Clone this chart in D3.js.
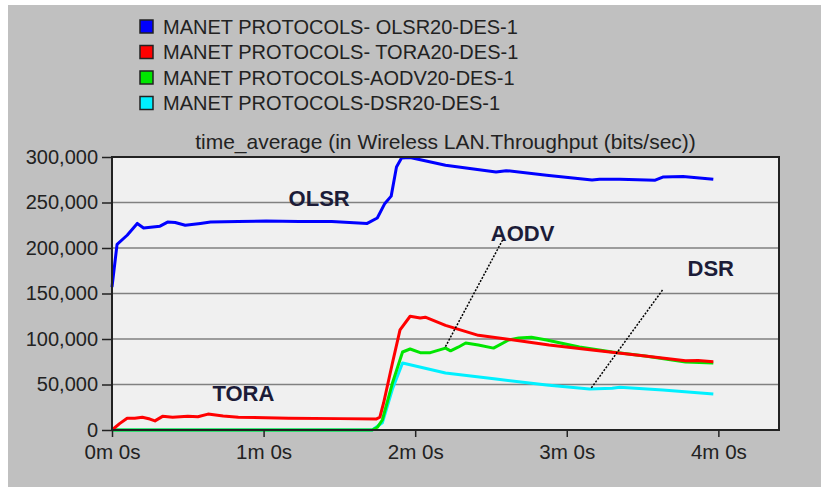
<!DOCTYPE html>
<html>
<head>
<meta charset="utf-8">
<script src="https://cdn.jsdelivr.net/npm/d3@7"></script>
<style>
  html, body { margin: 0; padding: 0; background: #fff; }
  svg { display: block; font-family: "Liberation Sans", Arial, sans-serif; }
</style>
</head>
<body>
<svg id="chart"></svg>
<script>
// time (s), throughput (bits/sec)
const olsr = [
  [0, 157000], [2, 204000], [6, 214000], [10, 227000], [12.5, 222000], [19, 224000],
  [22, 228500], [25, 228000], [29, 225000], [35, 227000], [39, 228500], [50, 229000],
  [61, 229700], [74, 229000], [87, 229000], [101, 227000], [105, 233000], [108, 249000],
  [110.5, 257000], [112.6, 289000], [114.6, 299000], [118, 299500], [132, 291000],
  [152, 283500], [156, 285000], [172, 280000], [190, 274700], [193, 275500],
  [201, 275500], [215, 274500], [218, 278000], [226, 278500], [238, 275500]
];
const tora = [
  [0, 0], [3, 7000], [6, 13000], [9, 13000], [12, 14000], [15, 12000], [17, 10000],
  [20, 15000], [24, 14000], [30, 15000], [34, 14500], [38, 17500], [44, 15500],
  [50, 14000], [70, 13000], [90, 12500], [104.5, 12000], [106, 14000], [107.5, 29700],
  [111, 73600], [114, 110000], [118, 125000], [122, 123000], [124, 124000],
  [132, 115000], [145, 104000], [159, 99000], [173, 93400], [190, 87900],
  [211, 81300], [227, 76200], [232, 76500], [238, 75000]
];
const aodv = [
  [0, 0], [103, 0], [105, 3000], [107, 11000], [111, 51600], [115, 85700], [118, 89000],
  [122, 85000], [126, 85000], [132, 90000], [134, 87000], [137, 91000], [140, 95600],
  [145, 93400], [151, 90000], [157, 98900], [161, 101000], [166, 102000], [172, 98900],
  [185, 91200], [198, 85700], [211, 81300], [227, 74700], [238, 73600]
];
const dsr = [
  [0, 0], [103, 0], [107, 8000], [111, 45000], [115, 73600], [132, 62600], [152, 56000],
  [172, 49500], [189, 45000], [198, 46000], [201, 47000], [218, 44000], [238, 39600]
];

const legendNames = [
  'MANET PROTOCOLS- OLSR20-DES-1',
  'MANET PROTOCOLS- TORA20-DES-1',
  'MANET PROTOCOLS-AODV20-DES-1',
  'MANET PROTOCOLS-DSR20-DES-1'
];
const seriesColors = ['#0000ff', '#ff0000', '#00e600', '#00f0ff'];
const yTicks = [0, 50000, 100000, 150000, 200000, 250000, 300000];
const xTicks = [0, 60, 120, 180, 240];
const xTickLabels = ['0m 0s', '1m 0s', '2m 0s', '3m 0s', '4m 0s'];
const title = 'time_average (in Wireless LAN.Throughput (bits/sec))';

// hand-drawn labels and dotted leader lines, in data units
const notes = [
  { text: 'OLSR', t: 82, v: 255000 },
  { text: 'TORA', t: 52, v: 40700 },
  { text: 'AODV', t: 162.5, v: 216500 },
  { text: 'DSR', t: 237, v: 178000 }
];
const leaders = [
  [[154.6, 208800], [131.7, 90100]],
  [[217.9, 153800], [189.4, 45000]]
];

const W = 821, H = 487;
const margin = { top: 157, right: 42, bottom: 57, left: 112 };
const width = W - margin.left - margin.right;
const height = H - margin.top - margin.bottom;

const svgEl = d3.select('#chart').attr('width', W).attr('height', H);

// grey panel with white strip on top/left
svgEl.append('rect').attr('x', 8).attr('y', 5).attr('width', W - 8).attr('height', H - 5)
  .attr('fill', '#c0c0c0');

const svg = svgEl.append('g').attr('transform', `translate(${margin.left},${margin.top})`);

const x = d3.scaleLinear().domain([0, 264]).range([0, width]);
const y = d3.scaleLinear().domain([0, 300000]).range([height, 0]);

svg.append('rect').attr('width', width).attr('height', height).attr('fill', '#f0f0f0');

// grid
svg.append('g')
  .selectAll('line')
  .data(yTicks.slice(1, -1))
  .enter()
  .append('line')
  .attr('x1', 0).attr('x2', width)
  .attr('y1', (d) => y(d)).attr('y2', (d) => y(d))
  .attr('stroke', '#808080')
  .attr('stroke-width', 1.5);

// series lines
const line = d3.line().x((d) => x(d[0])).y((d) => y(d[1]));
const series = [olsr, tora, aodv, dsr];
const drawOrder = [3, 2, 1, 0];
drawOrder.forEach((i) => {
  svg.append('path')
    .datum(series[i])
    .attr('d', line)
    .attr('fill', 'none')
    .attr('stroke', seriesColors[i])
    .attr('stroke-width', 3)
    .attr('stroke-linejoin', 'round');
});

// frame
svg.append('rect').attr('width', width).attr('height', height)
  .attr('fill', 'none').attr('stroke', '#222').attr('stroke-width', 2);

// axes
const yAxis = svg.append('g').call(
  d3.axisLeft(y).tickValues(yTicks).tickFormat(d3.format(',')).tickSize(10).tickPadding(4)
);
const xAxis = svg.append('g').attr('transform', `translate(0, ${height})`).call(
  d3.axisBottom(x).tickValues(xTicks).tickFormat((d, i) => xTickLabels[i]).tickSize(7).tickPadding(8)
);
[yAxis, xAxis].forEach((a) => {
  a.select('.domain').remove();
  a.selectAll('line').attr('stroke', '#222').attr('stroke-width', 1.5);
  a.selectAll('text').attr('fill', '#222').style('font-size', '20px')
    .style('font-family', '"Liberation Sans", Arial, sans-serif');
});
xAxis.selectAll('text').attr('textLength', 56).attr('lengthAdjust', 'spacingAndGlyphs');

// title
svgEl.append('text')
  .attr('x', margin.left + width / 2)
  .attr('y', 149)
  .attr('text-anchor', 'middle')
  .attr('fill', '#222')
  .style('font-size', '21px')
  .text(title);

// legend
const legend = svgEl.append('g');
legendNames.forEach((name, i) => {
  const row = legend.append('g').attr('transform', `translate(140, ${20 + i * 25.5})`);
  row.append('rect').attr('width', 13).attr('height', 13)
    .attr('fill', seriesColors[i]).attr('stroke', '#222').attr('stroke-width', 1.5);
  row.append('text').attr('x', 23).attr('y', 13.5)
    .attr('fill', '#222').style('font-size', '20px').text(name);
});

// annotations
svg.selectAll('.note')
  .data(notes)
  .enter()
  .append('text')
  .attr('class', 'note')
  .attr('x', (d) => x(d.t))
  .attr('y', (d) => y(d.v))
  .attr('dy', '0.36em')
  .attr('text-anchor', 'middle')
  .attr('fill', '#1c1c38')
  .style('font-size', '22px')
  .style('font-weight', 'bold')
  .text((d) => d.text);

svg.selectAll('.leader')
  .data(leaders)
  .enter()
  .append('line')
  .attr('class', 'leader')
  .attr('x1', (d) => x(d[0][0])).attr('y1', (d) => y(d[0][1]))
  .attr('x2', (d) => x(d[1][0])).attr('y2', (d) => y(d[1][1]))
  .attr('stroke', '#000')
  .attr('stroke-width', 1.5)
  .attr('stroke-dasharray', '2,1.5');
</script>
</body>
</html>
